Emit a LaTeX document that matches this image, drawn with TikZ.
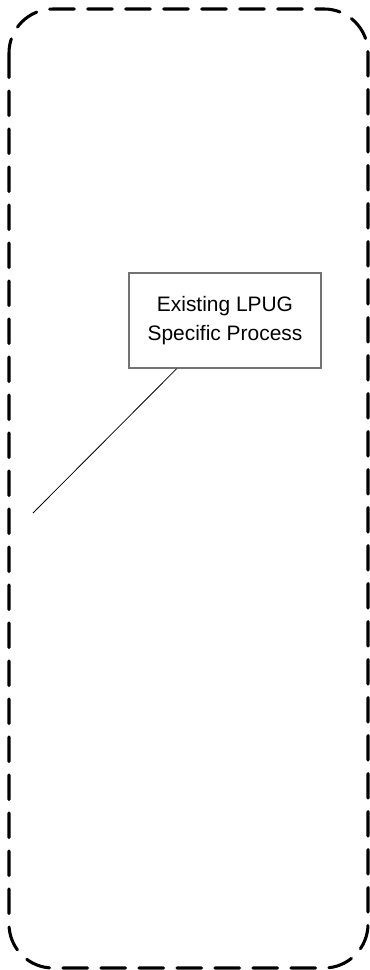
\documentclass[tikz,border=0pt]{standalone}
\usepackage{fontspec}
\setmainfont{Liberation Sans}
\usetikzlibrary{calc}
\begin{document}
\begin{tikzpicture}[x=0.75pt,y=-0.75pt,
  proc node/.style={rectangle,draw=black!55,line width=1.1pt,fill=white,
    minimum width=144pt,minimum height=71.25pt,inner sep=0pt,align=center,
    font=\fontsize{15.7}{22}\selectfont},
  group box/.style={draw,line width=2.3pt,rounded corners=33pt,
    dash pattern=on 18.5pt off 10pt,line cap=round}]
  \useasboundingbox (0,0) rectangle (370,970);
  \draw[group box] (9,9) rectangle (368,968);
  \node[proc node] (proc) at (225,320.5) {Existing LPUG\\Specific Process};
  \coordinate (tip) at (33,513);
  \draw[line width=0.6pt] ($(proc.south west)!0.25!(proc.south east)$) -- (tip);
\end{tikzpicture}
\end{document}
